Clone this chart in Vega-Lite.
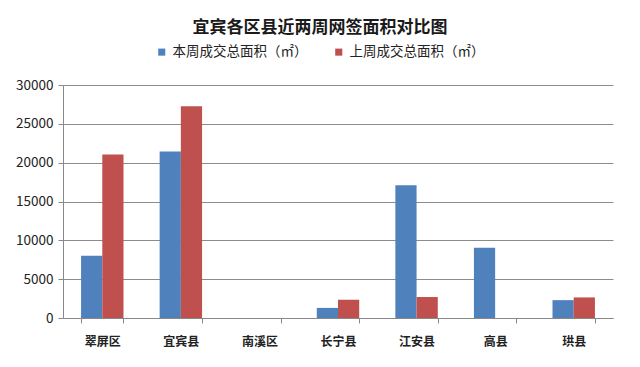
{
  "$schema": "https://vega.github.io/schema/vega-lite/v6.json",
  "width": 550,
  "height": 233,
  "autosize": "none",
  "padding": {"left": 63, "top": 85, "right": 27, "bottom": 49},
  "background": "white",
  "title": {
    "text": "宜宾各区县近两周网签面积对比图",
    "font": "Noto Sans CJK SC",
    "fontSize": 17,
    "fontWeight": "bold",
    "color": "#1a1a1a",
    "anchor": "middle",
    "dx": -18,
    "offset": 8
  },
  "data": {
    "values": [
      {"区县": "翠屏区", "周": "本周成交总面积（㎡）", "面积": 8000},
      {"区县": "翠屏区", "周": "上周成交总面积（㎡）", "面积": 21050},
      {"区县": "宜宾县", "周": "本周成交总面积（㎡）", "面积": 21450},
      {"区县": "宜宾县", "周": "上周成交总面积（㎡）", "面积": 27250},
      {"区县": "南溪区", "周": "本周成交总面积（㎡）", "面积": 0},
      {"区县": "南溪区", "周": "上周成交总面积（㎡）", "面积": 0},
      {"区县": "长宁县", "周": "本周成交总面积（㎡）", "面积": 1300},
      {"区县": "长宁县", "周": "上周成交总面积（㎡）", "面积": 2350},
      {"区县": "江安县", "周": "本周成交总面积（㎡）", "面积": 17100},
      {"区县": "江安县", "周": "上周成交总面积（㎡）", "面积": 2700},
      {"区县": "高县", "周": "本周成交总面积（㎡）", "面积": 9050},
      {"区县": "高县", "周": "上周成交总面积（㎡）", "面积": 0},
      {"区县": "珙县", "周": "本周成交总面积（㎡）", "面积": 2300},
      {"区县": "珙县", "周": "上周成交总面积（㎡）", "面积": 2650}
    ]
  },
  "mark": {"type": "bar"},
  "encoding": {
    "x": {
      "field": "区县",
      "type": "nominal",
      "sort": null,
      "scale": {"paddingInner": 0.46, "paddingOuter": 0.23},
      "axis": {
        "title": null,
        "labelAngle": 0,
        "labelFont": "Noto Sans CJK SC",
        "labelFontSize": 12,
        "labelFontWeight": "bold",
        "labelColor": "#222222",
        "labelPadding": 13,
        "domainColor": "#888888",
        "tickColor": "#888888",
        "tickSize": 5,
        "tickBand": "extent",
        "grid": false
      }
    },
    "xOffset": {
      "field": "周",
      "type": "nominal",
      "sort": ["本周成交总面积（㎡）", "上周成交总面积（㎡）"]
    },
    "y": {
      "field": "面积",
      "type": "quantitative",
      "scale": {"domain": [0, 30000], "nice": false},
      "axis": {
        "title": null,
        "values": [0, 5000, 10000, 15000, 20000, 25000, 30000],
        "format": "d",
        "labelFont": "Noto Sans CJK SC",
        "labelFontSize": 13.5,
        "labelColor": "#222222",
        "labelPadding": 5,
        "domainColor": "#888888",
        "tickColor": "#888888",
        "tickSize": 5,
        "gridColor": "#8c8c8c",
        "grid": true
      }
    },
    "color": {
      "field": "周",
      "type": "nominal",
      "sort": ["本周成交总面积（㎡）", "上周成交总面积（㎡）"],
      "scale": {"range": ["#4F81BD", "#C0504D"]},
      "legend": {
        "title": null,
        "orient": "none",
        "legendX": 92,
        "legendY": -40,
        "direction": "horizontal",
        "columns": 2,
        "columnPadding": 24,
        "symbolType": "square",
        "symbolSize": 50,
        "symbolStrokeWidth": 0,
        "labelFont": "Noto Sans CJK SC",
        "labelFontSize": 13.5,
        "labelColor": "#222222",
        "labelLimit": 300,
        "labelOffset": 4
      }
    }
  },
  "config": {
    "view": {"stroke": null},
    "axis": {"gridOpacity": 1}
  }
}
